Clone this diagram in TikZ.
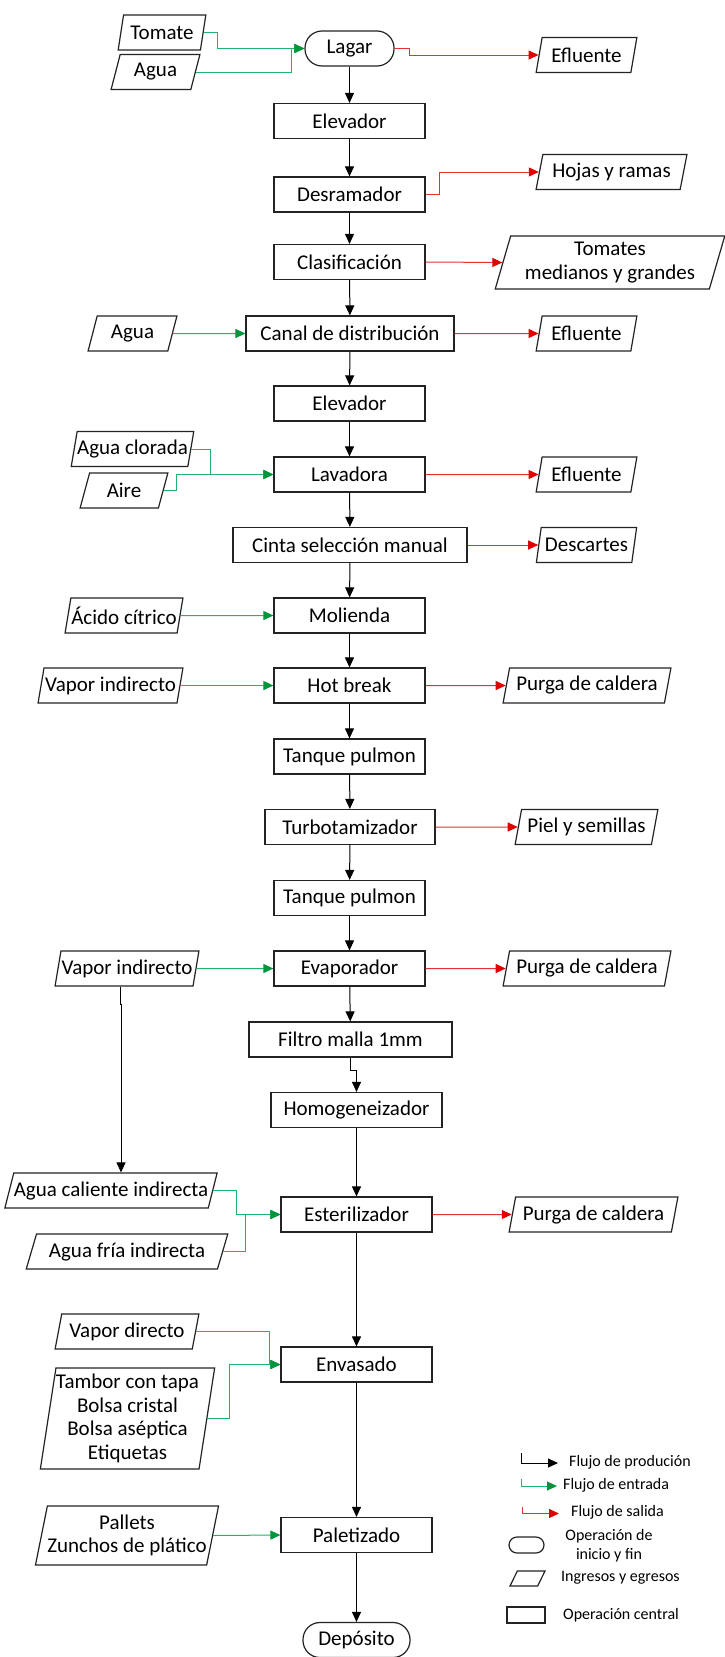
\documentclass[tikz,border=0pt]{standalone}
\usepackage{fontspec}
\setmainfont{Carlito}
\usepackage{tikz}
\usetikzlibrary{shapes.geometric,arrows.meta}

\definecolor{borde}{RGB}{35,35,35}
\definecolor{entrada}{RGB}{30,180,110}
\definecolor{entradatip}{RGB}{0,150,60}
\definecolor{salida}{RGB}{228,50,50}
\definecolor{salidatip}{RGB}{225,0,0}

\begin{document}
\begin{tikzpicture}[x=1pt,y=-1pt,font=\fontsize{21}{23.5}\selectfont,
  op/.style={draw=borde,line width=1.2pt,rectangle,minimum width=151pt,minimum height=35pt,inner sep=0pt,align=center},
  term/.style={op,rounded corners=17pt},
  io/.style={draw=borde,line width=1.2pt,trapezium,trapezium left angle=72,trapezium right angle=108,trapezium stretches=true,minimum height=35pt,inner sep=0pt,align=center},
  slanted/.style={trapezium left angle=64,trapezium right angle=116},
  flow/.style={line width=1pt,-{Triangle[length=10pt,width=9pt]}},
  inflow/.style={line width=1pt,entrada,-{Triangle[length=10pt,width=9pt,color=entradatip]}},
  outflow/.style={line width=1pt,salida,-{Triangle[length=10pt,width=9pt,color=salidatip]}},
  leg/.style={font=\fontsize{16}{19}\selectfont,inner sep=0pt}]

\useasboundingbox (0,0) rectangle (725,1657);

% main column
\node(lagar)[term,minimum width=89pt] at (349.5,48.5) {Lagar};
\node(elev1)[op] at (349.5,121) {Elevador};
\node(desr)[op] at (349.5,194.5) {Desramador};
\node(clas)[op] at (349.5,262) {Clasificación};
\node(canal)[op,minimum width=208pt] at (350,333.5) {Canal de distribución};
\node(elev2)[op] at (349.5,403.5) {Elevador};
\node(lava)[op] at (349.5,474.5) {Lavadora};
\node(cinta)[op,minimum width=234pt] at (350,545) {Cinta selección manual};
\node(mol)[op] at (349.5,615.5) {Molienda};
\node(hot)[op] at (349.5,685.5) {Hot break};
\node(tanq1)[op] at (349.5,756.5) {Tanque pulmon};
\node(turbo)[op,minimum width=170pt] at (350,827) {Turbotamizador};
\node(tanq2)[op] at (349.5,898) {Tanque pulmon};
\node(evap)[op] at (349.5,968.5) {Evaporador};
\node(filtro)[op,minimum width=203pt] at (350.5,1039.5) {Filtro malla 1mm};
\node(homog)[op,minimum width=171pt] at (356.5,1110) {Homogeneizador};
\node(ester)[op] at (356.5,1214.5) {Esterilizador};
\node(envas)[op] at (356.5,1364.5) {Envasado};
\node(palet)[op] at (356.5,1535) {Paletizado};
\node(depos)[term,minimum width=107pt] at (356.5,1640) {Depósito};

% inputs
\node(tomate)[io,minimum width=88pt] at (162,32.5) {Tomate};
\node(agua1)[io,minimum width=89pt] at (155.5,72) {Agua};
\node(agua2)[io,minimum width=89pt] at (132.5,333.5) {Agua};
\node(clor)[io,minimum width=117pt] at (132.5,449) {Agua clorada};
\node(aire)[io,minimum width=88pt] at (124,490.5) {Aire};
\node(acido)[io,minimum width=118pt] at (124,615.5) {Ácido cítrico};
\node(vap1)[io,minimum width=145pt] at (110.5,685.5) {Vapor indirecto};
\node(vap2)[io,minimum width=144pt] at (127,968.5) {Vapor indirecto};
\node(acal)[io,slanted,minimum width=202pt] at (111,1190.5) {Agua caliente indirecta};
\node(afria)[io,slanted,minimum width=202pt] at (127,1251.5) {Agua fría indirecta};
\node(vapdir)[io,minimum width=144pt] at (127,1331.5) {Vapor directo};
\node(tambor)[io,trapezium left angle=80,trapezium right angle=100,minimum width=171pt,minimum height=101pt] at (127.5,1418.5) {Tambor con tapa\\Bolsa cristal\\Bolsa aséptica\\Etiquetas};
\node(pallets)[io,trapezium left angle=74,trapezium right angle=106,minimum width=170pt,minimum height=59pt] at (127,1535.5) {Pallets\\Zunchos de plático};

% outputs
\node(eflu1)[io,minimum width=101pt] at (586.5,55) {Efluente};
\node(hojas)[io,minimum width=151pt] at (611.5,172) {Hojas y ramas};
\node(tommg)[io,minimum width=230pt,minimum height=53pt] at (610,262.5) {Tomates\\medianos y grandes};
\node(eflu2)[io,minimum width=101pt] at (586.5,333.5) {Efluente};
\node(eflu3)[io,minimum width=101pt] at (586.5,474.5) {Efluente};
\node(desc)[io,minimum width=101pt] at (586.5,545) {Descartes};
\node(purga1)[io,minimum width=168pt] at (587,685.5) {Purga de caldera};
\node(piel)[io,minimum width=143pt] at (586.5,827) {Piel y semillas};
\node(purga2)[io,minimum width=168pt] at (587,968.5) {Purga de caldera};
\node(purga3)[io,minimum width=169pt] at (593.5,1214.5) {Purga de caldera};

% production flow
\foreach \a/\b in {lagar/elev1,elev1/desr,desr/clas,clas/canal,canal/elev2,elev2/lava,lava/cinta,cinta/mol,mol/hot,hot/tanq1,tanq1/turbo,turbo/tanq2,tanq2/evap,evap/filtro,homog/ester,ester/envas,envas/palet,palet/depos}
  \draw[flow] (\a) -- (\b);
\draw[flow] (filtro.south) -- ++(0,13) -| (homog.north);
\draw[flow] ([xshift=-7pt]vap2.south) -- ++(0,18) -| ([xshift=10pt]acal.north);

% inputs
\foreach \a/\b in {agua2/canal,acido/mol,vap1/hot,vap2/evap,pallets/palet}
  \draw[inflow] (\a.east) -- (\b.west);
\draw[inflow] (tomate.east) -- ++(14,0) |- (lagar.west);
\draw[inflow] (agua1.east) -| ([xshift=-13pt]lagar.west) -- (lagar.west);
\draw[inflow] (clor.east) -- ++(19,0) |- (lava.west);
\draw[inflow] (aire.east) -- ++(13,0) |- (lava.west);
\draw[inflow] (acal.east) -- ++(23,0) |- (ester.west);
\draw[inflow] (afria.east) -- ++(22,0) |- (ester.west);
\draw[inflow] (vapdir.east) -- ++(73,0) |- (envas.west);
\draw[inflow] (tambor.east) -- ++(22,0) |- (envas.west);

% outputs
\foreach \a/\b in {clas/tommg,canal/eflu2,lava/eflu3,cinta/desc,hot/purga1,turbo/piel,evap/purga2,ester/purga3}
  \draw[outflow] (\a.east) -- (\b.west);
\draw[outflow] (lagar.east) -- ++(15,0) |- (eflu1.west);
\draw[outflow] (desr.east) -- ++(14,0) |- (hojas.west);

% legend
\coordinate(lf1) at (521.5,1453);
\coordinate(lf2) at (558,1463);
\coordinate(le1) at (521.5,1479);
\coordinate(le2) at (557,1486);
\coordinate(ls1) at (522,1507);
\coordinate(ls2) at (559,1513.5);
\draw[flow] (lf1) |- (lf2);
\draw[inflow] (le1) |- (le2);
\draw[outflow] (ls1) |- (ls2);
\node(tf)[leg,anchor=west] at (569,1462) {Flujo de produción};
\node(te)[leg,anchor=west] at (563,1485) {Flujo de entrada};
\node(ts)[leg,anchor=west] at (571,1512) {Flujo de salida};
\node(lterm)[op,rounded corners=8pt,minimum width=35pt,minimum height=16pt] at (526.5,1545) {};
\node(tterm)[leg,align=center] at (609,1545.5) {Operación de\\inicio y fin};
\node(lio)[io,inner sep=1pt,trapezium left angle=70,trapezium right angle=110,minimum width=35pt,minimum height=15pt] at (527.5,1578.5) {};
\node(tio)[leg,anchor=west] at (561,1578) {Ingresos y egresos};
\node(lop)[op,minimum width=38pt,minimum height=16pt] at (526,1615) {};
\node(top)[leg,anchor=west] at (563,1615) {Operación central};

\end{tikzpicture}
\end{document}
